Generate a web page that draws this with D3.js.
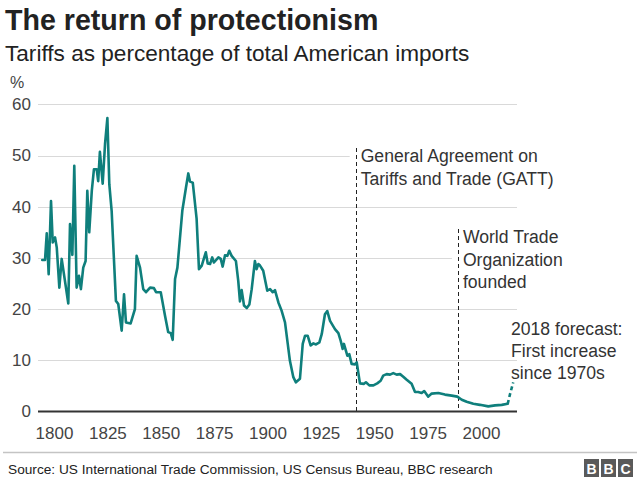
<!DOCTYPE html>
<html>
<head>
<meta charset="utf-8">
<script src="https://cdn.jsdelivr.net/npm/d3@7"></script>
<style>
  html, body { margin: 0; padding: 0; background: #fff; }
  svg { display: block; }
  text { font-family: "Liberation Sans", Arial, Helvetica, sans-serif; }
</style>
</head>
<body>
<script>
// ---------- data ----------
const years = [1794.5,1795.8,1796.6,1797.5,1798.6,1799.4,1800.5,1801.3,1802.5,1803.6,1806.7,1807.5,1808.6,1809.5,1810.6,1811.7,1812.6,1813.7,1814.8,1815.6,1816.5,1817.7,1818.7,1820.0,1820.7,1821.5,1822.8,1823.9,1825.0,1825.9,1827.0,1829.0,1830.1,1831.7,1832.8,1833.7,1835.9,1837.9,1838.7,1840.3,1841.8,1843.1,1845.0,1846.8,1847.8,1850.0,1852.0,1853.5,1854.7,1855.6,1856.7,1857.8,1860.1,1861.8,1862.9,1863.7,1865.0,1866.8,1867.9,1869.2,1871.1,1872.0,1873.1,1874.1,1874.9,1877.0,1878.1,1879.0,1880.1,1881.2,1882.1,1883.2,1885.2,1886.3,1887.1,1887.9,1889.0,1890.3,1891.5,1892.6,1894.1,1894.9,1895.7,1896.5,1898.0,1899.9,1901.2,1902.4,1903.5,1905.1,1906.6,1908.2,1910.5,1912.1,1913.3,1915.2,1916.5,1917.6,1918.8,1920.2,1921.5,1922.7,1924.3,1925.4,1926.9,1928.0,1929.3,1931.6,1933.2,1934.3,1935.2,1935.8,1937.4,1938.3,1939.4,1941.0,1941.8,1943.3,1945.2,1946.1,1947.7,1949.6,1951.4,1953.0,1954.2,1955.8,1957.4,1958.9,1960.5,1962.1,1963.6,1965.2,1967.5,1969.1,1970.6,1972.2,1973.4,1975.3,1976.9,1980.0,1983.1,1986.3,1988.9,1991.0,1993.3,1996.4,1999.5,2003.4,2006.6,2009.7,2012.5];
const tariffs = [29.6,29.6,34.8,26.8,41.1,33.0,34.0,32.0,24.2,29.8,21.1,36.6,30.6,48.0,24.2,26.5,23.9,28.1,29.4,43.1,35.0,43.1,47.3,47.3,45.0,50.7,44.5,52.2,57.3,44.4,39.2,21.6,21.0,15.8,22.9,17.4,17.2,20.0,30.4,28.1,23.9,23.3,24.2,24.1,23.3,23.3,18.7,15.5,15.3,14.0,25.9,28.1,39.2,43.7,46.5,44.9,44.7,37.6,27.8,28.5,31.1,28.9,28.8,30.1,29.1,30.1,29.8,28.3,30.5,30.4,31.4,30.4,29.4,25.5,21.5,23.7,20.7,20.2,20.9,23.9,29.4,27.8,28.8,28.5,27.5,23.6,23.9,23.3,23.7,21.3,19.7,17.4,9.9,6.7,5.7,6.4,13.2,14.8,14.8,12.9,13.3,13.1,13.5,15.1,19.0,19.6,17.7,16.1,15.3,13.8,12.2,13.2,10.9,11.2,9.3,9.2,9.6,5.5,5.4,5.7,5.1,5.1,5.5,6.0,7.0,7.3,7.2,7.5,7.2,7.3,6.8,6.2,5.4,3.8,3.8,3.6,4.0,2.9,3.5,3.6,3.3,3.1,2.9,2.3,1.9,1.5,1.3,1.0,1.2,1.3,1.5];
const forecastYears = [2012.5, 2013.6, 2015.1];
const forecastValues = [1.5, 3.4, 5.7];
const xTicks = [1800, 1825, 1850, 1875, 1900, 1925, 1950, 1975, 2000];
const yTicks = [0, 10, 20, 30, 40, 50, 60];
const annotationYears = [1941.3, 1989.2];
const annotationLines = [
  ["General Agreement on", "Tariffs and Trade (GATT)"],
  ["World Trade", "Organization", "founded"]
];
const forecastLabel = ["2018 forecast:", "First increase", "since 1970s"];
const titleText = "The return of protectionism";
const subtitleText = "Tariffs as percentage of total American imports";
const sourceText = "Source: US International Trade Commission, US Census Bureau, BBC research";

// ---------- layout ----------
const W = 640, H = 485;
const plotLeft = 38, plotRight = 517;
const svg = d3.select("body").append("svg").attr("width", W).attr("height", H);
svg.append("rect").attr("width", W).attr("height", H).attr("fill", "#fff");

const x = d3.scaleLinear().domain([1800, 2000]).range([54, 481]);
const y = d3.scaleLinear().domain([0, 60]).range([411.5, 104.3]);

// title / subtitle
svg.append("text").attr("x", 5).attr("y", 30).attr("font-size", 28.6).attr("font-weight", "bold")
  .attr("fill", "#222").text(titleText);
svg.append("text").attr("x", 5).attr("y", 61).attr("font-size", 22.6).attr("fill", "#222").text(subtitleText);
svg.append("text").attr("x", 10).attr("y", 88).attr("font-size", 16).attr("fill", "#444").text("%");

// gridlines
svg.append("g").selectAll("line").data(yTicks.filter(d => d > 0)).join("line")
  .attr("x1", plotLeft).attr("x2", plotRight)
  .attr("y1", d => Math.round(y(d)) + 0.5).attr("y2", d => Math.round(y(d)) + 0.5)
  .attr("stroke", "#d9d9d9").attr("stroke-width", 1);

// y axis labels
const yAxis = d3.axisLeft(y).tickValues(yTicks).tickSize(0).tickPadding(0);
const gy = svg.append("g").attr("transform", "translate(31,0)").call(yAxis);
gy.select(".domain").remove();
gy.selectAll("text").attr("font-size", 17).attr("fill", "#444")
  .style("font-family", '"Liberation Sans", Arial, sans-serif');

// x axis labels
const xAxis = d3.axisBottom(x).tickValues(xTicks).tickFormat(d3.format("d")).tickSize(0).tickPadding(0);
const gx = svg.append("g").attr("transform", "translate(0,427)").call(xAxis);
gx.select(".domain").remove();
gx.selectAll("text").attr("font-size", 17).attr("fill", "#444")
  .style("font-family", '"Liberation Sans", Arial, sans-serif');

// annotation white backgrounds (mask gridlines behind text)
const annTops = [146, 227];
const annBottoms = [190, 292];
annotationYears.forEach((yr, i) => {
  svg.append("rect").attr("x", x(yr) - 6).attr("y", annTops[i])
    .attr("width", plotRight - x(yr) + 6 + 110).attr("height", annBottoms[i] - annTops[i])
    .attr("fill", "#fff");
});

// dashed annotation lines
const annLineTops = [148, 229];
annotationYears.forEach((yr, i) => {
  svg.append("line").attr("x1", Math.round(x(yr)) + 0.5).attr("x2", Math.round(x(yr)) + 0.5)
    .attr("y1", annLineTops[i]).attr("y2", y(0))
    .attr("stroke", "#222").attr("stroke-width", 1).attr("stroke-dasharray", "4,3");
});

// annotation text
const annFirstBaseline = [162, 243];
annotationYears.forEach((yr, i) => {
  const t = svg.append("text").attr("font-size", 17.6).attr("fill", "#333");
  annotationLines[i].forEach((s, j) => {
    t.append("tspan").attr("x", x(yr) + 5).attr("y", annFirstBaseline[i] + j * 22.5).text(s);
  });
});

// forecast label
const ft = svg.append("text").attr("font-size", 17.6).attr("fill", "#333");
forecastLabel.forEach((s, j) => {
  ft.append("tspan").attr("x", 511).attr("y", 335 + j * 22).text(s);
});

// baseline
svg.append("line").attr("x1", plotLeft).attr("x2", plotRight)
  .attr("y1", y(0)).attr("y2", y(0)).attr("stroke", "#333").attr("stroke-width", 2);

// main line
const line = d3.line().x(d => x(d[0])).y(d => y(d[1]));
const series = years.map((yr, i) => [yr, tariffs[i]]);
svg.append("path").datum(series).attr("d", line)
  .attr("fill", "none").attr("stroke", "#0f7f7c").attr("stroke-width", 2.6)
  .attr("stroke-linejoin", "round").attr("stroke-linecap", "round");

const fseries = forecastYears.map((yr, i) => [yr, forecastValues[i]]);
svg.append("path").datum(fseries).attr("d", line)
  .attr("fill", "none").attr("stroke", "#0f7f7c").attr("stroke-width", 2.6)
  .attr("stroke-dasharray", "4,3");

// footer
svg.append("line").attr("x1", 3).attr("x2", 637).attr("y1", 452.5).attr("y2", 452.5)
  .attr("stroke", "#c4c4c4").attr("stroke-width", 1.5);
svg.append("text").attr("x", 8).attr("y", 474).attr("font-size", 13.7).attr("fill", "#222").text(sourceText);

const bbc = svg.append("g").attr("transform", "translate(584,459)");
["B", "B", "C"].forEach((c, i) => {
  bbc.append("rect").attr("x", i * 17).attr("y", 0).attr("width", 15).attr("height", 18).attr("fill", "#5a5a5a");
  bbc.append("text").attr("x", i * 17 + 7.5).attr("y", 14.5).attr("text-anchor", "middle")
    .attr("font-size", 14).attr("font-weight", "bold").attr("fill", "#fff").text(c);
});
</script>
</body>
</html>
